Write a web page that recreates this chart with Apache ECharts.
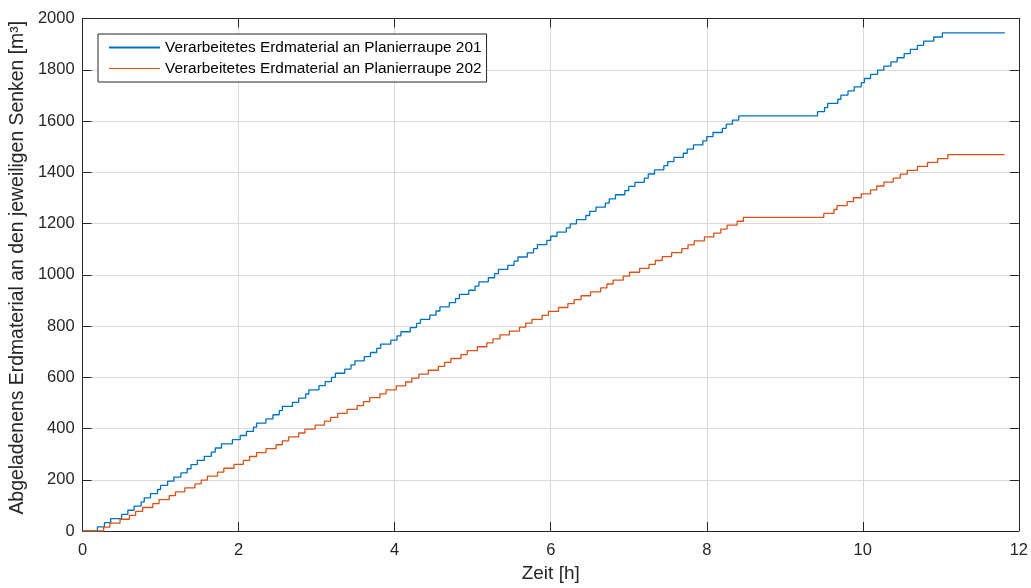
<!DOCTYPE html>
<html>
<head>
<meta charset="utf-8">
<script src="https://cdn.jsdelivr.net/npm/echarts@6/dist/echarts.min.js"></script>
<style>
  html, body { margin: 0; padding: 0; background: #fff; }
  #chart { width: 1031px; height: 588px; }
</style>
</head>
<body>
<div id="chart"></div>
<script>
// Dump events per dozer: time of each unloading [h] and cumulative volume [m³] after it.
const seriesNames = [
  'Verarbeitetes Erdmaterial an Planierraupe 201',
  'Verarbeitetes Erdmaterial an Planierraupe 202'
];

const shiftStart = 0;    // h
const shiftEnd = 11.82;  // h

const times201 = [
  0.19, 0.28, 0.36, 0.50, 0.58, 0.66, 0.75, 0.79, 0.87, 0.96,
  1.00, 1.09, 1.17, 1.26, 1.34, 1.39, 1.47, 1.56, 1.65, 1.70,
  1.78, 1.92, 2.02, 2.10, 2.19, 2.23, 2.35, 2.44, 2.52, 2.56,
  2.69, 2.77, 2.86, 2.90, 3.03, 3.11, 3.19, 3.24, 3.36, 3.44,
  3.49, 3.61, 3.69, 3.77, 3.82, 3.95, 4.03, 4.08, 4.20, 4.28,
  4.33, 4.45, 4.53, 4.58, 4.70, 4.78, 4.83, 4.95, 5.03, 5.08,
  5.20, 5.28, 5.33, 5.45, 5.53, 5.58, 5.70, 5.78, 5.83, 5.95,
  6.00, 6.08, 6.20, 6.25, 6.33, 6.45, 6.50, 6.58, 6.70, 6.75,
  6.83, 6.95, 7.00, 7.08, 7.20, 7.25, 7.33, 7.45, 7.50, 7.58,
  7.70, 7.75, 7.83, 7.95, 8.00, 8.08, 8.20, 8.25, 8.33, 8.41,
  9.42, 9.51, 9.55, 9.68, 9.72, 9.81, 9.89, 9.98, 10.02, 10.10,
  10.19, 10.27, 10.36, 10.44, 10.53, 10.61, 10.70, 10.78, 10.91, 11.02
];
const volumes201 = [
  16.2, 32.4, 48.6, 64.8, 81, 97.2, 113.4, 129.6, 145.8, 162,
  178.2, 194.4, 210.6, 226.8, 243, 259.2, 275.4, 291.6, 307.8, 324,
  340.2, 356.4, 372.6, 388.8, 405, 421.2, 437.4, 453.6, 469.8, 486,
  502.2, 518.4, 534.6, 550.8, 567, 583.2, 599.4, 615.6, 631.8, 648,
  664.2, 680.4, 696.6, 712.8, 729, 745.2, 761.4, 777.6, 793.8, 810,
  826.2, 842.4, 858.6, 874.8, 891, 907.2, 923.4, 939.6, 955.8, 972,
  988.2, 1004.4, 1020.6, 1036.8, 1053, 1069.2, 1085.4, 1101.6, 1117.8, 1134,
  1150.2, 1166.4, 1182.6, 1198.8, 1215, 1231.2, 1247.4, 1263.6, 1279.8, 1296,
  1312.2, 1328.4, 1344.6, 1360.8, 1377, 1393.2, 1409.4, 1425.6, 1441.8, 1458,
  1474.2, 1490.4, 1506.6, 1522.8, 1539, 1555.2, 1571.4, 1587.6, 1603.8, 1620,
  1636.2, 1652.4, 1668.6, 1684.8, 1701, 1717.2, 1733.4, 1749.6, 1765.8, 1782,
  1798.2, 1814.4, 1830.6, 1846.8, 1863, 1879.2, 1895.4, 1911.6, 1927.8, 1944
];

const times202 = [
  0.27, 0.35, 0.48, 0.60, 0.68, 0.77, 0.90, 0.98, 1.11, 1.19,
  1.31, 1.44, 1.52, 1.60, 1.73, 1.81, 1.94, 2.06, 2.14, 2.23,
  2.35, 2.48, 2.56, 2.64, 2.77, 2.85, 2.98, 3.10, 3.18, 3.27,
  3.39, 3.52, 3.60, 3.68, 3.81, 3.89, 4.02, 4.14, 4.22, 4.31,
  4.43, 4.56, 4.64, 4.72, 4.85, 4.93, 5.06, 5.18, 5.26, 5.35,
  5.47, 5.60, 5.68, 5.76, 5.89, 5.97, 6.10, 6.22, 6.30, 6.39,
  6.51, 6.64, 6.72, 6.80, 6.93, 7.01, 7.14, 7.26, 7.34, 7.43,
  7.55, 7.68, 7.76, 7.84, 7.97, 8.09, 8.18, 8.26, 8.39, 8.47,
  9.50, 9.63, 9.67, 9.80, 9.88, 9.98, 10.10, 10.18, 10.27, 10.39,
  10.48, 10.57, 10.70, 10.83, 10.96, 11.09
];
const volumes202 = [
  15.3, 30.6, 45.9, 61.2, 76.5, 91.8, 107.1, 122.4, 137.7, 153,
  168.3, 183.6, 198.9, 214.2, 229.5, 244.8, 260.1, 275.4, 290.7, 306,
  321.3, 336.6, 351.9, 367.2, 382.5, 397.8, 413.1, 428.4, 443.7, 459,
  474.3, 489.6, 504.9, 520.2, 535.5, 550.8, 566.1, 581.4, 596.7, 612,
  627.3, 642.6, 657.9, 673.2, 688.5, 703.8, 719.1, 734.4, 749.7, 765,
  780.3, 795.6, 810.9, 826.2, 841.5, 856.8, 872.1, 887.4, 902.7, 918,
  933.3, 948.6, 963.9, 979.2, 994.5, 1009.8, 1025.1, 1040.4, 1055.7, 1071,
  1086.3, 1101.6, 1116.9, 1132.2, 1147.5, 1162.8, 1178.1, 1193.4, 1208.7, 1224,
  1239.3, 1254.6, 1269.9, 1285.2, 1300.5, 1315.8, 1331.1, 1346.4, 1361.7, 1377,
  1392.3, 1407.6, 1422.9, 1438.2, 1453.5, 1468.8
];

// Cumulative staircase: starts at zero and holds the last value until shift end.
function staircase(times, volumes) {
  const pts = [[shiftStart, 0]];
  for (let i = 0; i < times.length; i++) pts.push([times[i], volumes[i]]);
  pts.push([shiftEnd, volumes[volumes.length - 1]]);
  return pts;
}

const axisColor = '#262626';
const gridColor = '#d9d9d9';
const fontFamily = '"Liberation Sans", Arial, Helvetica, sans-serif';
const tickFont = 16.5;
const plainNumber = (v) => String(v);

const boxAxis = {
  axisLine: { show: true, onZero: false, lineStyle: { color: axisColor, width: 1 } },
  axisTick: { show: true, inside: true, length: 9, lineStyle: { color: axisColor, width: 1 } },
  axisLabel: { show: false },
  splitLine: { show: false }
};

const chart = echarts.init(document.getElementById('chart'), null, { renderer: 'canvas' });
chart.setOption({
  animation: false,
  backgroundColor: '#ffffff',
  grid: { left: 81, right: 11, top: 18.5, bottom: 50.5, containLabel: false },
  legend: {
    orient: 'vertical',
    left: 98,
    top: 34,
    padding: [6, 5, 6, 11],
    itemWidth: 51,
    itemHeight: 14,
    itemGap: 6,
    symbolKeepAspect: true,
    backgroundColor: '#ffffff',
    borderColor: axisColor,
    borderWidth: 1,
    borderRadius: 0,
    selectedMode: false,
    textStyle: { fontFamily: fontFamily, fontSize: 15.4, color: '#000000' },
    data: [
      { name: seriesNames[0], icon: 'path://M0,0H51V2H0Z' },
      { name: seriesNames[1], icon: 'path://M0,0H51V1H0Z' }
    ]
  },
  xAxis: [
    {
      type: 'value', position: 'bottom', min: 0, max: 12, interval: 2,
      name: 'Zeit [h]', nameLocation: 'middle', nameGap: 33,
      nameTextStyle: { fontFamily: fontFamily, fontSize: 19, color: axisColor },
      axisLine: { show: true, onZero: false, lineStyle: { color: axisColor, width: 1 } },
      axisTick: { show: true, inside: true, length: 9, lineStyle: { color: axisColor } },
      axisLabel: { fontFamily: fontFamily, fontSize: tickFont, color: axisColor, margin: 11, formatter: plainNumber },
      splitLine: { show: true, lineStyle: { color: gridColor, width: 1 } }
    },
    Object.assign({ type: 'value', position: 'top', min: 0, max: 12, interval: 2 }, boxAxis)
  ],
  yAxis: [
    {
      type: 'value', position: 'left', min: 0, max: 2000, interval: 200,
      name: 'Abgeladenens Erdmaterial an den jeweiligen Senken [m³]',
      nameLocation: 'middle', nameGap: 52, nameRotate: 90,
      nameTextStyle: { fontFamily: fontFamily, fontSize: 19.4, color: axisColor, padding: [0, 0, 0, 14] },
      axisLine: { show: true, onZero: false, lineStyle: { color: axisColor, width: 1 } },
      axisTick: { show: true, inside: true, length: 9, lineStyle: { color: axisColor } },
      axisLabel: { fontFamily: fontFamily, fontSize: tickFont, color: axisColor, margin: 8, formatter: plainNumber },
      splitLine: { show: true, lineStyle: { color: gridColor, width: 1 } }
    },
    Object.assign({ type: 'value', position: 'right', min: 0, max: 2000, interval: 200 }, boxAxis)
  ],
  series: [
    {
      name: seriesNames[0], type: 'line', step: 'end', symbol: 'none',
      color: '#0072BD',
      lineStyle: { color: '#0072BD', width: 1.3 },
      data: staircase(times201, volumes201)
    },
    {
      name: seriesNames[1], type: 'line', step: 'end', symbol: 'none',
      color: '#D95319',
      lineStyle: { color: '#D95319', width: 1.3 },
      data: staircase(times202, volumes202)
    }
  ]
});
</script>
</body>
</html>
